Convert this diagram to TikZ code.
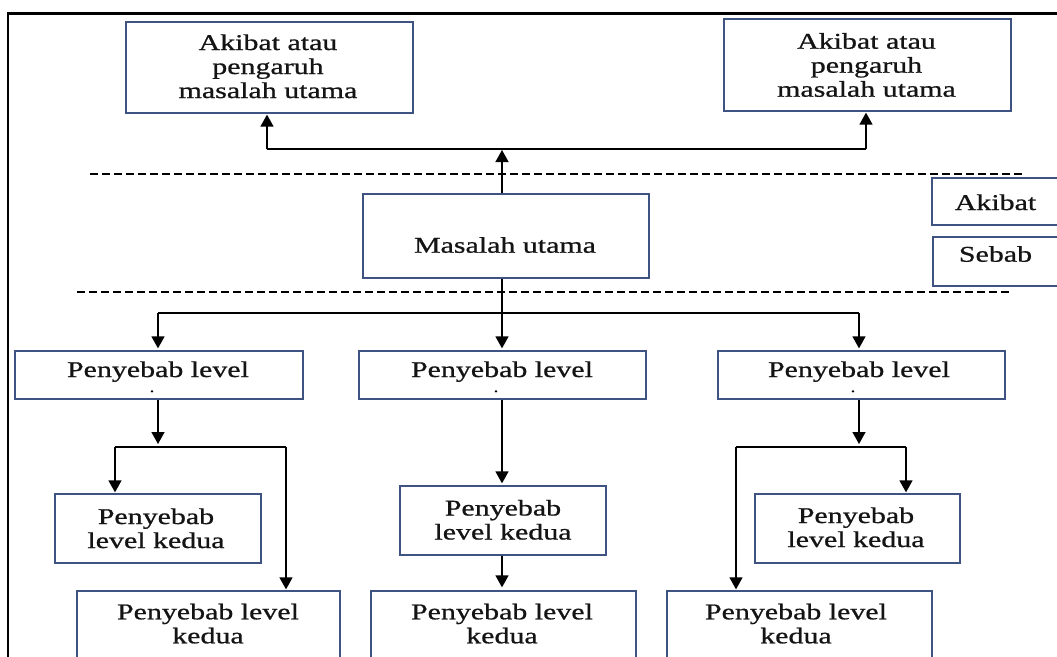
\documentclass[tikz,border=0pt]{standalone}
\usepackage{fontspec}
\setmainfont[FakeStretch=1.33,FakeBold=0.8]{Liberation Serif}
\usetikzlibrary{arrows.meta}
\definecolor{boxc}{HTML}{3F5383}
\begin{document}
\begin{tikzpicture}[x=1pt,y=-1pt,
  bx/.style={draw=boxc, line width=1.3pt, inner sep=0pt, fill=white},
  txt/.style={font=\fontsize{22.5}{24}\selectfont, align=center, anchor=base, inner sep=0pt, text=black!92},
  dotmark/.style={font=\fontsize{14}{14}\selectfont, anchor=base, inner sep=0pt},
  arr/.style={line width=1.4pt, -{Triangle[width=13pt,length=12pt]}},
  ln/.style={line width=1.4pt},
  dsh/.style={line width=1.4pt, dash pattern=on 8pt off 4pt},
]
\useasboundingbox (0,0) rectangle (1057,656);
\clip (0,0) rectangle (1057,656);
\fill[white] (0,0) rectangle (1057,656);

% outer frame
\draw[line width=2.2pt] (8,700) -- (8,13.5) -- (1070,13.5);

% dashed separators
\draw[dsh] (90,174) -- (1023,174);
\draw[dsh] (77,292) -- (1010,292);

% boxes
\node[bx, minimum width=287pt, minimum height=91pt] (tl) at (269.5,67.5) {};
\node[bx, minimum width=287pt, minimum height=92pt] (tr) at (867.5,65) {};
\node[bx, minimum width=286pt, minimum height=84pt] (mu) at (506,236) {};
\node[bx, minimum width=130pt, minimum height=47pt] (ak) at (997,201.5) {};
\node[bx, minimum width=129pt, minimum height=49pt] (sb) at (997.5,261.5) {};
\node[bx, minimum width=288pt, minimum height=48pt] (l1l) at (159,375) {};
\node[bx, minimum width=287pt, minimum height=48pt] (l1m) at (502.5,375) {};
\node[bx, minimum width=287pt, minimum height=48pt] (l1r) at (861.5,375) {};
\node[bx, minimum width=206pt, minimum height=69pt] (l2a) at (158,528.5) {};
\node[bx, minimum width=263pt, minimum height=89pt] (l2b) at (208.5,635.5) {};
\node[bx, minimum width=206pt, minimum height=69pt] (m2a) at (503,520.5) {};
\node[bx, minimum width=265pt, minimum height=89pt] (m2b) at (503.5,635.5) {};
\node[bx, minimum width=205pt, minimum height=69pt] (r2a) at (857.5,528.5) {};
\node[bx, minimum width=265pt, minimum height=89pt] (r2b) at (799.5,635.5) {};

% texts (anchor base = baseline of the last line)
\node[txt] (ttl) at (268,98) {Akibat atau\\pengaruh\\masalah utama};
\node[txt] (ttr) at (866.5,96.7) {Akibat atau\\pengaruh\\masalah utama};
\node[txt] (tmu) at (505,252.7) {Masalah utama};
\node[txt] (tak) at (995.5,210) {Akibat};
\node[txt] (tsb) at (995.5,261.7) {Sebab};
\node[txt] (tl1l) at (158,377) {Penyebab level};
\node[txt] (tl1m) at (502,377) {Penyebab level};
\node[txt] (tl1r) at (859,377) {Penyebab level};
\node[dotmark] (dl1l) at (152,392) {.};
\node[dotmark] (dl1m) at (496,392) {.};
\node[dotmark] (dl1r) at (853,392) {.};
\node[txt] (tl2a) at (156,548) {Penyebab\\level kedua};
\node[txt] (tl2b) at (208,643.3) {Penyebab level\\kedua};
\node[txt] (tm2a) at (503,539.5) {Penyebab\\level kedua};
\node[txt] (tm2b) at (502,643.3) {Penyebab level\\kedua};
\node[txt] (tr2a) at (856,547) {Penyebab\\level kedua};
\node[txt] (tr2b) at (796,643.3) {Penyebab level\\kedua};

% junction coordinates
\coordinate (jt) at (502,149);
\coordinate (jtl) at (267,149);
\coordinate (jtr) at (866,149);
\coordinate (jb) at (502,313);
\coordinate (jbl) at (158,313);
\coordinate (jbr) at (859,313);
\coordinate (bl) at (158,447);
\coordinate (bll) at (115,447);
\coordinate (blr) at (286,447);
\coordinate (br) at (859,447);
\coordinate (brl) at (736,447);
\coordinate (brr) at (906,447);

% upper connectors
\draw[ln] (jtl) -- (jtr);
\draw[arr, shorten >=1pt] (jtl) -- (jtl |- tl.south);
\draw[arr, shorten >=1pt] (jtr) -- (jtr |- tr.south);
\draw[arr, shorten >=1pt] (mu.north -| jt) -- (jt);

% lower connectors
\draw[ln] (jbl) -- (jbr);
\draw[ln] (mu.south -| jb) -- (jb);
\draw[arr, shorten >=2pt] (jb) -- (jb |- l1m.north);
\draw[arr, shorten >=2pt] (jbl) -- (jbl |- l1l.north);
\draw[arr, shorten >=2pt] (jbr) -- (jbr |- l1r.north);

% left branch
\draw[arr, shorten >=3pt] (l1l.south -| bl) -- (bl);
\draw[ln] (bll) -- (blr);
\draw[arr, shorten >=1pt] (bll) -- (bll |- l2a.north);
\draw[arr, shorten >=1pt] (blr) -- (blr |- l2b.north);

% middle branch
\draw[arr, shorten >=2pt] (l1m.south -| jb) -- (jb |- m2a.north);
\draw[arr, shorten >=3pt] (m2a.south -| jb) -- (jb |- m2b.north);

% right branch
\draw[arr, shorten >=3pt] (l1r.south -| br) -- (br);
\draw[ln] (brl) -- (brr);
\draw[arr, shorten >=1pt] (brr) -- (brr |- r2a.north);
\draw[arr, shorten >=1pt] (brl) -- (brl |- r2b.north);
\end{tikzpicture}
\end{document}
